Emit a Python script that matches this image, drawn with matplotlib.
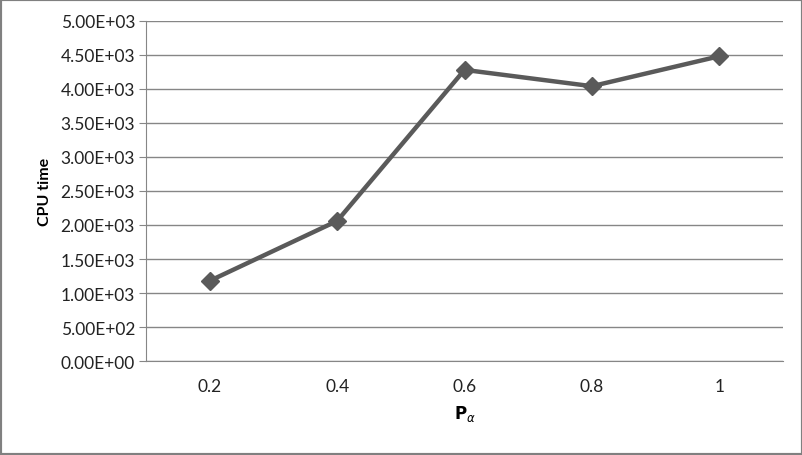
import matplotlib.pyplot as plt
import matplotlib.ticker as mticker
from matplotlib.patches import Rectangle

p_alpha = ["0.2", "0.4", "0.6", "0.8", "1"]
cpu_time = [1180, 2060, 4280, 4040, 4480]

plt.rcParams['font.family'] = ['Lato', 'DejaVu Sans']

fig = plt.figure(figsize=(8.03, 4.56), dpi=100)
ax = fig.add_axes([0.182, 0.206, 0.793, 0.746])

x = range(len(p_alpha))
ax.plot(x, cpu_time, color='#5a5a5a', lw=3.2, marker='D', ms=9.5,
        markerfacecolor='#5a5a5a', markeredgecolor='#5a5a5a', zorder=3)

ax.set_xlim(-0.5, len(p_alpha) - 0.5)
ax.set_ylim(0, 5000)
ax.set_xticks(list(x))
ax.set_xticklabels(p_alpha)
ax.yaxis.set_major_locator(mticker.MultipleLocator(500))
ax.yaxis.set_major_formatter(mticker.FuncFormatter(lambda v, p: "%.2E" % v))

ax.grid(axis='y', color='#868686', lw=1)
ax.set_axisbelow(True)
for s in ['top', 'right']:
    ax.spines[s].set_visible(False)
ax.spines['left'].set_color('#868686')
ax.spines['bottom'].set_color('#868686')
ax.tick_params(axis='y', length=5, colors='#868686', labelcolor='#222222',
               labelsize=12.5, pad=3)
ax.tick_params(axis='x', length=0, labelsize=12.5, labelcolor='#222222', pad=12)

ax.set_ylabel('CPU time', fontsize=11.5, fontweight='bold', labelpad=6)
ax.set_xlabel(r'$\mathbf{P}_{\alpha}$', fontsize=12, labelpad=7)

fig.patches.append(Rectangle((0, 0), 1, 1, transform=fig.transFigure,
                             fill=False, edgecolor='#808080', lw=3))

fig.savefig('out.png', dpi=100)
